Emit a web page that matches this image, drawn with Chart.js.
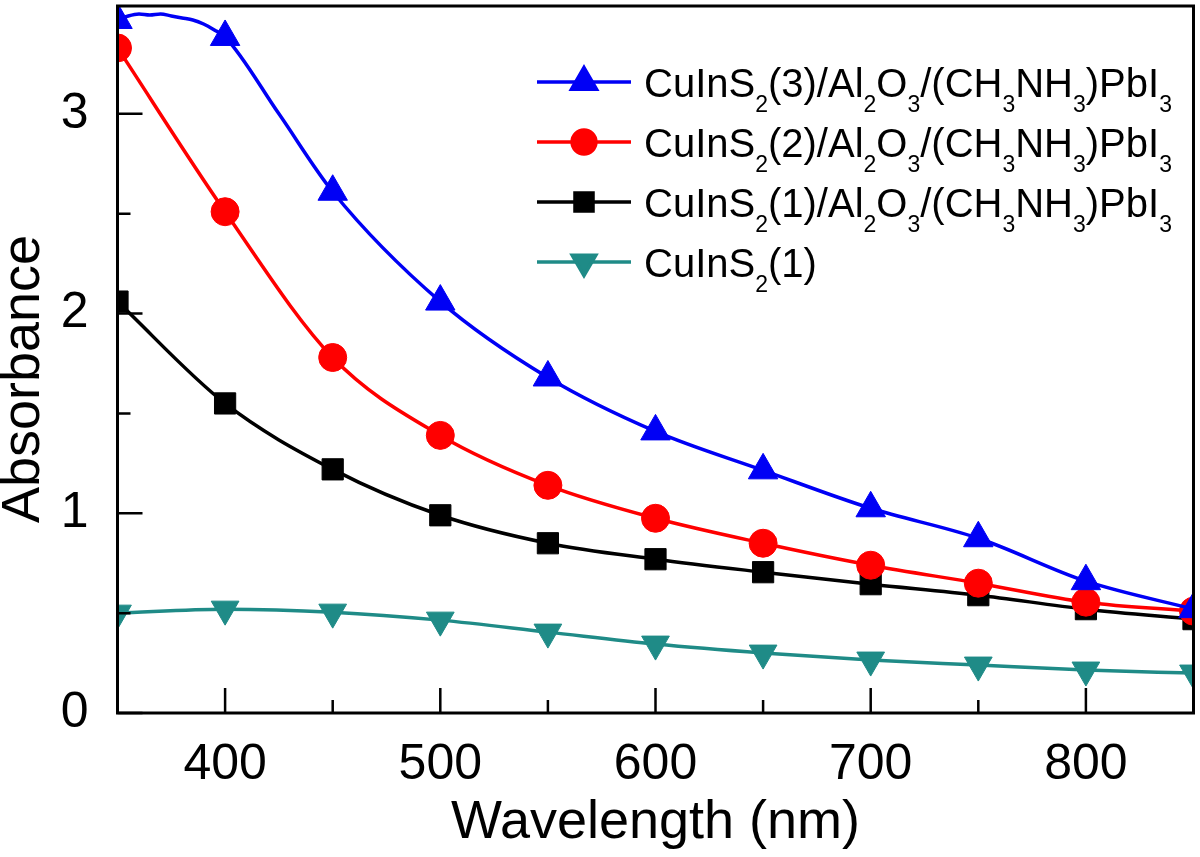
<!DOCTYPE html>
<html>
<head>
<meta charset="utf-8">
<script src="https://cdn.jsdelivr.net/npm/chart.js@4.4.1/dist/chart.umd.min.js"></script>
<style>
  html, body { margin: 0; padding: 0; background: #fff; }
  #wrap { width: 1200px; height: 857px; }
</style>
</head>
<body>
<div id="wrap"><canvas id="absorbance" width="1200" height="857"></canvas></div>
<script>
// wavelengths where the markers sit (nm)
const markerWavelengths = [350, 400, 450, 500, 550, 600, 650, 700, 750, 800, 850];

// absorbance at each marker
const cis3Absorbance = [3.47, 3.385, 2.61, 2.06, 1.68, 1.41, 1.215, 1.025, 0.875, 0.66, 0.52];
const cis2Absorbance = [3.33, 2.51, 1.78, 1.39, 1.14, 0.975, 0.85, 0.74, 0.65, 0.555, 0.51];
const cis1Absorbance = [2.06, 1.55, 1.22, 0.99, 0.85, 0.77, 0.705, 0.645, 0.59, 0.52, 0.47];
const cisBareAbsorbance = [0.50, 0.52, 0.505, 0.465, 0.405, 0.345, 0.30, 0.265, 0.24, 0.215, 0.20];

// the blue curve has a noisy hump near the left edge, extra readings there
const cis3EdgeWavelengths = [355, 360, 365, 370, 375, 380, 385, 390, 395, 425];
const cis3EdgeAbsorbance = [3.49, 3.50, 3.495, 3.50, 3.49, 3.48, 3.47, 3.45, 3.42, 3.0];

const legendLabels = [
  'CuInS_2(3)/Al_2O_3/(CH_3NH_3)PbI_3',
  'CuInS_2(2)/Al_2O_3/(CH_3NH_3)PbI_3',
  'CuInS_2(1)/Al_2O_3/(CH_3NH_3)PbI_3',
  'CuInS_2(1)'
];

const xMajorTicks = [400, 500, 600, 700, 800];
const xMinorTicks = [450, 550, 650, 750];
const yMajorTicks = [0, 1, 2, 3];
const yMinorTicks = [0.5, 1.5, 2.5];

const FONT = '"Liberation Sans", Arial, Helvetica, sans-serif';

function toPoints(xs, ys) {
  return xs.map((x, i) => ({ x: x, y: ys[i] }));
}

const cis3Points = toPoints(markerWavelengths, cis3Absorbance)
  .concat(toPoints(cis3EdgeWavelengths, cis3EdgeAbsorbance))
  .sort((a, b) => a.x - b.x);

function markerRadius(r) {
  return ctx => (ctx.raw && ctx.raw.x % 50 === 0 ? r : 0);
}

function makeSet(label, points, color, style, r, rotation) {
  return {
    label: label,
    data: points,
    borderColor: color,
    backgroundColor: color,
    borderWidth: 3.5,
    pointStyle: style,
    pointRotation: rotation || 0,
    pointRadius: markerRadius(r),
    pointHoverRadius: markerRadius(r),
    pointBorderWidth: 1,
    pointBackgroundColor: color,
    pointBorderColor: color,
    cubicInterpolationMode: 'monotone',
    clip: 0,
    legendRadius: r * 0.85
  };
}

const datasets = [
  makeSet(legendLabels[0], cis3Points, '#0000f5', 'triangle', 17),
  makeSet(legendLabels[1], toPoints(markerWavelengths, cis2Absorbance), '#ff0000', 'circle', 14),
  makeSet(legendLabels[2], toPoints(markerWavelengths, cis1Absorbance), '#000000', 'rect', 15),
  makeSet(legendLabels[3], toPoints(markerWavelengths, cisBareAbsorbance), '#1f8b87', 'triangle', 16, 180)
];

// inward ticks and the box around the plot
const frameAndTicks = {
  id: 'frameAndTicks',
  afterDatasetsDraw(chart) {
    const { ctx, chartArea: a, scales: { x, y } } = chart;
    ctx.save();
    ctx.strokeStyle = '#000';
    ctx.lineWidth = 2.5;
    ctx.beginPath();
    xMajorTicks.forEach(v => { const p = x.getPixelForValue(v); ctx.moveTo(p, a.bottom); ctx.lineTo(p, a.bottom - 25); });
    xMinorTicks.forEach(v => { const p = x.getPixelForValue(v); ctx.moveTo(p, a.bottom); ctx.lineTo(p, a.bottom - 13); });
    yMajorTicks.forEach(v => { const p = y.getPixelForValue(v); ctx.moveTo(a.left, p); ctx.lineTo(a.left + 25, p); });
    yMinorTicks.forEach(v => { const p = y.getPixelForValue(v); ctx.moveTo(a.left, p); ctx.lineTo(a.left + 13, p); });
    ctx.stroke();
    ctx.lineWidth = 3;
    ctx.strokeRect(a.left, a.top, a.right - a.left, a.bottom - a.top);
    ctx.restore();
  }
};

// legend with subscripts, plus the rotated y title
const subLegend = {
  id: 'subLegend',
  afterDraw(chart) {
    const ctx = chart.ctx;
    ctx.save();
    ctx.fillStyle = '#000';
    ctx.textBaseline = 'alphabetic';
    ctx.textAlign = 'left';
    chart.data.datasets.forEach((ds, i) => {
      const base = 97 + i * 60;
      const mid = base - 15;
      ctx.strokeStyle = ds.borderColor;
      ctx.lineWidth = 3.5;
      ctx.beginPath();
      ctx.moveTo(537, mid);
      ctx.lineTo(631, mid);
      ctx.stroke();
      ctx.fillStyle = ds.backgroundColor;
      Chart.helpers.drawPoint(ctx, {
        pointStyle: ds.pointStyle, rotation: ds.pointRotation, radius: ds.legendRadius, borderWidth: 1
      }, 584, mid);
      ctx.fillStyle = '#000';
      let xPos = 644;
      ds.label.split(/_(\d)/).forEach((part, k) => {
        const isSub = k % 2 === 1;
        ctx.font = (isSub ? '23px ' : '40px ') + FONT;
        ctx.fillText(part, xPos, isSub ? base + 15 : base);
        xPos += ctx.measureText(part).width;
      });
    });
    ctx.font = '54px ' + FONT;
    ctx.textAlign = 'center';
    ctx.textBaseline = 'middle';
    ctx.translate(24, 379);
    ctx.rotate(-Math.PI / 2);
    ctx.fillText('Absorbance', 0, 0);
    ctx.restore();
  }
};

function noEdgePadding(s) {
  s.paddingTop = 0;
  s.paddingBottom = 0;
  s.paddingLeft = 0;
  s.paddingRight = 0;
}

new Chart(document.getElementById('absorbance'), {
  type: 'line',
  data: { datasets: datasets },
  options: {
    responsive: false,
    animation: false,
    layout: { autoPadding: false, padding: { top: 6, right: 6.5, left: 0, bottom: 0 } },
    plugins: { legend: { display: false }, tooltip: { enabled: false } },
    scales: {
      x: {
        type: 'linear',
        min: 350,
        max: 850,
        afterBuildTicks: s => { s.ticks = xMajorTicks.map(v => ({ value: v })); },
        afterFit: s => { s.height = 144; noEdgePadding(s); },
        grid: { display: false, drawTicks: false },
        border: { display: false },
        ticks: { font: { family: FONT, size: 50 }, color: '#000', padding: 22, maxRotation: 0, autoSkip: false },
        title: {
          display: true, text: 'Wavelength (nm)', color: '#000',
          font: { family: FONT, size: 54, lineHeight: 1.2 }, padding: { top: 0, bottom: 1 }
        }
      },
      y: {
        type: 'linear',
        min: 0,
        max: 3.54,
        afterBuildTicks: s => { s.ticks = yMajorTicks.map(v => ({ value: v })); },
        afterFit: s => { s.width = 117.5; noEdgePadding(s); },
        grid: { display: false, drawTicks: false },
        border: { display: false },
        ticks: { font: { family: FONT, size: 50 }, color: '#000', padding: 29, autoSkip: false }
      }
    }
  },
  plugins: [frameAndTicks, subLegend]
});
</script>
</body>
</html>
